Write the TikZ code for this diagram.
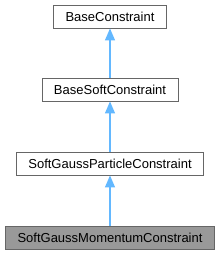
\documentclass[tikz,border=0pt]{standalone}
\usepackage{fontspec}
\setmainfont{Liberation Sans}
\usetikzlibrary{arrows.meta}

\begin{document}
\begin{tikzpicture}[x=1pt, y=1pt]
    % Define colours
    \definecolor{borderColour}{HTML}{666666}
    \definecolor{fillColour}{HTML}{FFFFFF}
    \definecolor{currentColour}{HTML}{999999}
    \definecolor{edgeColour}{HTML}{63B8FF}

    \tikzset{
        classbox/.style={draw=borderColour, fill=fillColour, line width=0.9pt,
            font=\fontsize{13}{15}\selectfont, inner xsep=12pt,
            minimum height=23pt, inner ysep=0pt},
        inherit/.style={draw=edgeColour, line width=1.3pt,
            -{Triangle[length=12pt, width=10pt]}}
    }

    % Fix the picture size
    \useasboundingbox (0,0) rectangle (220,256);

    % Draw the classes
    \node[classbox] (baseConstraint) at (110,239.5) {BaseConstraint};
    \node[classbox] (baseSoft) at (110,166.5) {BaseSoftConstraint};
    \node[classbox] (softParticle) at (110,92.5) {SoftGaussParticleConstraint};
    \node[classbox, fill=currentColour] (softMomentum) at (110,18.5) {SoftGaussMomentumConstraint};

    % Draw the inheritance arrows
    \draw[inherit] (baseSoft) -- (baseConstraint);
    \draw[inherit] (softParticle) -- (baseSoft);
    \draw[inherit] (softMomentum) -- (softParticle);

\end{tikzpicture}
\end{document}
